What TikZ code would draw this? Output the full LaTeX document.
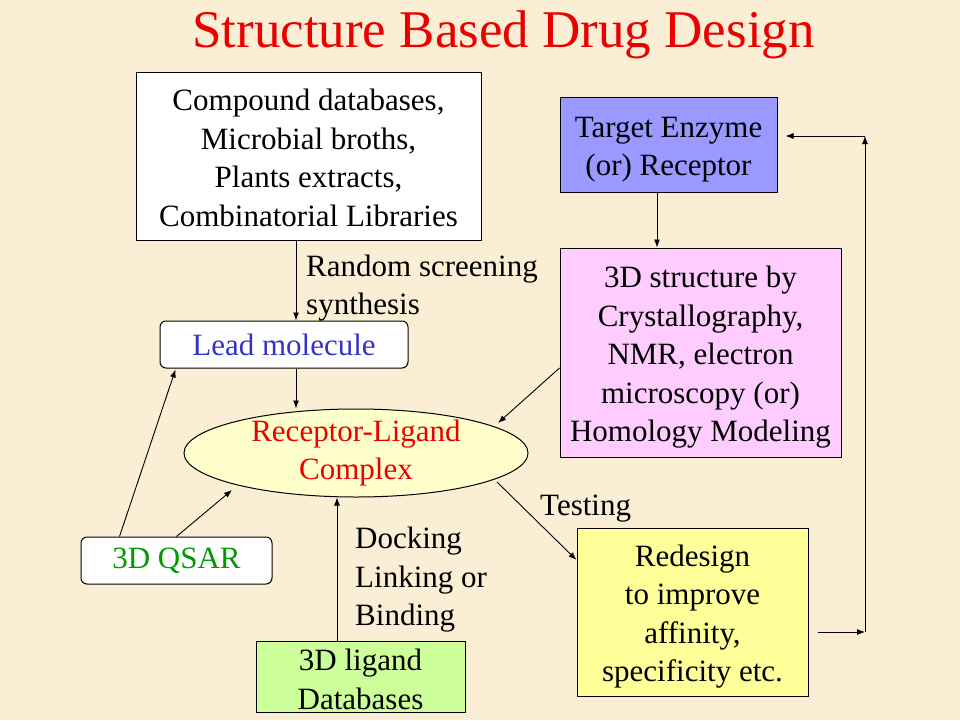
\documentclass[tikz,border=0pt]{standalone}
\usepackage{fontspec}
\setmainfont{Liberation Serif}
\usetikzlibrary{arrows.meta,shapes.geometric,calc}
\definecolor{bg}{RGB}{250,238,212}
\definecolor{titlered}{RGB}{235,0,0}
\definecolor{leadblue}{RGB}{51,51,204}
\definecolor{qsargreen}{RGB}{0,153,0}
\definecolor{tgtfill}{RGB}{153,153,255}
\definecolor{strfill}{RGB}{255,204,255}
\definecolor{redfill}{RGB}{255,255,153}
\definecolor{ligfill}{RGB}{204,255,153}
\definecolor{ellfill}{RGB}{255,255,204}
\newcommand\mystrutA[1]{\rule{0pt}{#1}}
\begin{document}
\begin{tikzpicture}[x=1pt,y=-1pt,
  txt/.style={font=\fontsize{31}{38.5}\selectfont, align=center, inner sep=0pt},
  box/.style={draw=black, line width=1pt, txt},
  arr/.style={-{Latex[length=8pt,width=6pt]}, line width=0.9pt},
]
\fill[bg] (0,0) rectangle (960,720);
\useasboundingbox (0,0) rectangle (960,720);

\node[anchor=base west, text=titlered, font=\fontsize{53}{60}\selectfont, inner sep=0pt] (title) at (192,47) {Structure Based Drug Design};

\node[box, fill=white, minimum width=345pt, minimum height=168pt] (comp) at (308.5,156) {\mystrutA{25pt}Compound databases,\\ Microbial broths,\\ Plants extracts,\\ Combinatorial Libraries};
\node[box, fill=tgtfill, minimum width=217pt, minimum height=95pt] (tgt) at (668.5,144.5) {\mystrutA{31pt}Target Enzyme\\(or) Receptor};
\node[box, fill=strfill, minimum width=281pt, minimum height=209pt] (str) at (700.5,352.5) {\mystrutA{31pt}3D structure by\\ Crystallography,\\NMR, electron\\microscopy (or)\\Homology Modeling};
\node[box, fill=white, rounded corners=6pt, minimum width=248pt, minimum height=47pt, text=leadblue] (lead) at (284,344.5) {Lead molecule};
\node[box, ellipse, fill=ellfill, minimum width=344pt, minimum height=88pt, inner ysep=-5pt, text=titlered] (ell) at (356,453) {Receptor-Ligand\\Complex};
\node[box, fill=white, rounded corners=6pt, minimum width=191pt, minimum height=47pt, text=qsargreen] (qsar) at (176.5,560.5) {3D QSAR};
\node[box, fill=redfill, minimum width=231pt, minimum height=168pt] (red) at (692.5,612) {\mystrutA{31pt}Redesign\\to improve\\affinity,\\specificity etc.};
\node[box, fill=ligfill, minimum width=209pt, minimum height=71pt] (lig) at (360.5,676.5) {\mystrutA{27pt}3D ligand\\Databases};

\node[txt, align=left, anchor=west] (rs) at (306,288) {Random screening\\synthesis};
\node[txt, align=left, anchor=west] (dock) at (355,580) {Docking\\Linking or\\Binding};
\node[txt, anchor=base west] (test) at (540,515) {Testing};

\coordinate (xa) at (296,0);
\coordinate (xt) at (657,0);
\coordinate (xb) at (337,0);
\draw[arr] (comp.south -| xa) -- (lead.north -| xa);
\draw[arr] (lead.south -| xa) -- (ell.north -| xa);
\draw[arr] (tgt.south -| xt) -- (str.north -| xt);
\draw[arr] ($(str.west)+(0,15.5)$) -- ($(ell.center)+(142,-30)$);
\draw[arr] ($(ell.center)+(141,29)$) -- ($(red.west)+(0,-52)$);
\draw[arr] ($(qsar.north west)+(39,0)$) -- ($(lead.south west)+(16,1)$);
\draw[arr] ($(qsar.north west)+(96,0)$) -- ($(ell.center)+(-124,37)$);
\draw[arr] (lig.north -| xb) -- (ell.south -| xb);

\coordinate (fb1) at ($(red.east)+(9,20)$);
\coordinate (fb2) at (865,632);
\coordinate (fb3) at (865,136);
\coordinate (fb4) at ($(tgt.east)+(8,-8.5)$);
\draw[arr] (fb1) -- (fb2);
\draw[arr] (fb2) -- (fb3);
\draw[arr] (fb3) -- (fb4);
\end{tikzpicture}
\end{document}
